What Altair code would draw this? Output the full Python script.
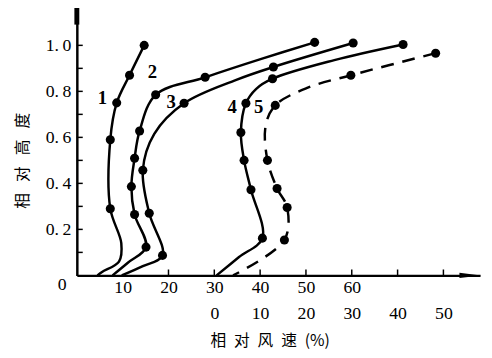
import altair as alt
import pandas as pd

# Curves 1-3: values on the upper x scale (relative wind speed, %)
c1_x = [14.7, 11.5, 8.7, 7.3, 7.3, 9.7, 9.2, 5.5, 4.5]
c1_y = [1.00, 0.87, 0.75, 0.59, 0.29, 0.14, 0.06, 0.015, 0.0]
c1_m = [1, 1, 1, 1, 1, 0, 0, 0, 0]

c2_x = [51.9, 40.1, 28.0, 17.2, 13.7, 12.6, 11.9, 12.6, 15.1, 11.2, 7.8]
c2_y = [1.013, 0.94, 0.861, 0.785, 0.628, 0.509, 0.386, 0.265, 0.123, 0.056, 0.0]
c2_m = [1, 0, 1, 1, 1, 1, 1, 1, 1, 0, 0]

c3_x = [60.3, 42.9, 34.8, 23.4, 16.9, 14.4, 15.8, 18.7, 14.4, 9.8]
c3_y = [1.01, 0.906, 0.85, 0.748, 0.615, 0.457, 0.27, 0.087, 0.04, 0.0]
c3_m = [1, 1, 0, 1, 0, 1, 1, 1, 0, 0]

# Curves 4-5: values on the lower x scale (its 0 sits at 30 of the upper scale)
LOWER_ZERO = 30
c4_x = [41.2, 26.2, 12.7, 9.1, 6.9, 5.8, 6.5, 8.0, 10.5, 5.4, 0.5]
c4_y = [1.004, 0.936, 0.855, 0.81, 0.748, 0.621, 0.5, 0.372, 0.162, 0.08, 0.0]
c4_m = [1, 0, 1, 0, 1, 1, 1, 1, 1, 0, 0]

c5_x = [48.3, 29.8, 20.4, 13.3, 11.2, 11.6, 13.7, 15.9, 15.3, 4.1]
c5_y = [0.966, 0.87, 0.816, 0.739, 0.65, 0.5, 0.378, 0.295, 0.154, 0.0]
c5_m = [1, 1, 0, 1, 0, 1, 1, 1, 1, 0]

# curve number labels (upper-scale x, relative height)
lab_text = ["1", "2", "3", "4", "5"]
lab_x = [5.6, 16.5, 20.6, 33.9, 39.7]
lab_y = [0.77, 0.885, 0.752, 0.73, 0.73]

x_tick_vals = [0, 10, 20, 30, 40, 50, 60, 70, 80]
x_minor = [20, 30, 40, 50, 60, 70, 80]
y_tick_vals = [0.2, 0.4, 0.6, 0.8, 1.0]
y_minor = [0.1, 0.2, 0.3, 0.4, 0.5, 0.6, 0.7, 0.8, 0.9, 1.0]

rows = []
for name, xs, ys, ms, off in [
    ("1", c1_x, c1_y, c1_m, 0),
    ("2", c2_x, c2_y, c2_m, 0),
    ("3", c3_x, c3_y, c3_m, 0),
    ("4", c4_x, c4_y, c4_m, LOWER_ZERO),
    ("5", c5_x, c5_y, c5_m, LOWER_ZERO),
]:
    for i, (x, y, m) in enumerate(zip(xs, ys, ms)):
        rows.append({"curve": name, "idx": i, "x": x + off, "y": y, "m": m})
df = pd.DataFrame(rows)
df_solid = df[df.curve != "5"]
df_dash = df[df.curve == "5"]
df_pts = df[df.m == 1]
df_lab = pd.DataFrame({"t": lab_text, "x": lab_x, "y": lab_y})

SERIF = "Liberation Serif"
CJK = "Noto Sans CJK SC"
SP = "\u2002"

xscale = alt.Scale(domain=[0, 88], nice=False, zero=False)
yscale = alt.Scale(domain=[0, 1.15], nice=False, zero=False)

x_axis = alt.Axis(
    values=x_tick_vals,
    labelExpr=(
        "datum.value == 0 ? '' : datum.value < 30 ? datum.label : "
        "datum.value <= 60 ? [datum.label, '' + (datum.value - 30)] : "
        "['', '' + (datum.value - 30)]"
    ),
    labelFont=SERIF, labelFontSize=18, labelColor="black", labelPadding=3,
    labelLineHeight=27, labelFlush=False, labelOverlap=False,
    ticks=False, grid=False, domainColor="black", domainWidth=2.5,
    title=SP.join(["相", "对", "风", "速", "(%)"]), titleFont=CJK, titleFontSize=16,
    titleFontWeight="normal", titleColor="black",
    titleX=196, titleY=66, titleBaseline="middle",
)
y_axis = alt.Axis(
    values=y_tick_vals,
    labelExpr="replace(format(datum.value, '.1f'), '.', '.\u2009')",
    labelFont=SERIF, labelFontSize=18, labelColor="black", labelPadding=6,
    ticks=False, grid=False, domainColor="black", domainWidth=2.5,
    title=(SP + "\u2009").join(["相", "对", "高", "度"]), titleFont=CJK, titleFontSize=16,
    titleFontWeight="normal", titleColor="black",
    titleX=-55, titleY=152, titleBaseline="middle", titleAngle=-90,
)

X = alt.X("x:Q", scale=xscale, axis=x_axis)
Y = alt.Y("y:Q", scale=yscale, axis=y_axis)

solid = alt.Chart(df_solid).mark_line(
    interpolate="catmull-rom", color="black", strokeWidth=2.5
).encode(x=X, y=Y, detail="curve:N", order="idx:Q")

dashed = alt.Chart(df_dash).mark_line(
    interpolate="catmull-rom", color="black", strokeWidth=2.5, strokeDash=[13, 9]
).encode(x=X, y=Y, order="idx:Q")

pts = alt.Chart(df_pts).mark_circle(size=85, color="black", opacity=1).encode(x=X, y=Y)

labels = alt.Chart(df_lab).mark_text(
    font=SERIF, fontSize=19, fontWeight="bold", color="black",
    align="center", baseline="middle"
).encode(x=X, y=Y, text="t:N")

xt = alt.Chart(pd.DataFrame({"x": x_minor})).mark_rule(color="black", strokeWidth=1.5).encode(
    x=X, y=alt.value(269), y2=alt.value(263)
)
yt = alt.Chart(pd.DataFrame({"y": y_minor})).mark_rule(color="black", strokeWidth=1.5).encode(
    y=Y, x=alt.value(0), x2=alt.value(6)
)

one = pd.DataFrame({"a": [0]})
ytop = alt.Chart(one).mark_rule(color="black", strokeWidth=5).encode(
    x=alt.value(0), y=alt.value(-4), y2=alt.value(14)
)
xarrow = alt.Chart(one).mark_point(
    shape="M -1 -0.25 L 1 0 L -1 0.25 Z", filled=True, color="black", opacity=1, size=484
).encode(x=alt.value(400), y=alt.value(269))
origin = alt.Chart(one).mark_text(
    text="0", font=SERIF, fontSize=18, color="black", align="center", baseline="middle"
).encode(x=alt.value(-15), y=alt.value(279))

chart = alt.layer(solid, dashed, pts, labels, xt, yt, ytop, xarrow, origin).properties(
    width=410, height=269,
    padding={"left": 70, "top": 0, "right": 4, "bottom": 75},
    autosize=alt.AutoSizeParams(type="none"),
    background="white",
).configure_view(stroke=None)

chart.save("out.html", embed_options={"renderer": "svg", "actions": False})
